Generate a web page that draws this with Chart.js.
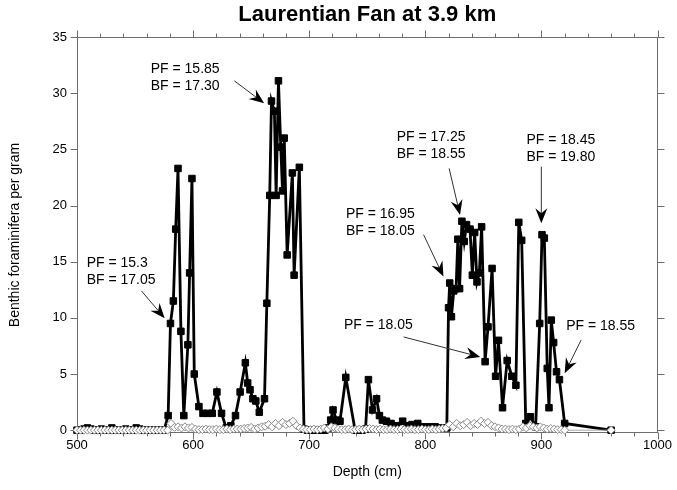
<!DOCTYPE html>
<html>
<head>
<meta charset="utf-8">
<script src="https://cdn.jsdelivr.net/npm/chart.js@4.4.0/dist/chart.umd.min.js"></script>
<style>
  html, body { margin: 0; padding: 0; background: #fff; }
</style>
</head>
<body>
<canvas id="fanChart" width="677" height="490"></canvas>
<script>
// Benthic forams (black squares), depth in cm
const bfDepth = [
  500, 503, 506, 509, 512, 515, 518, 521, 524, 527, 530, 533, 536, 539, 542, 545, 548, 551, 554, 557, 560, 563, 566, 569, 572, 575,
  578.5, 580.5, 583, 585, 587, 589.5, 592, 595.5, 597, 599, 601, 605, 608.5, 612.5, 616.5, 620.5, 624.5, 628.5, 632.5, 636.5, 640.5,
  645, 647, 649, 651.5, 654, 657, 661.5, 663.5, 666, 667.5, 670, 671.5, 673.5, 675.5, 677, 678.5, 681, 685.5, 687, 691.5, 695.5,
  698.5, 701.5, 704.5, 707.5, 710.5, 713.5, 716.5, 718.5, 720.5, 723.5, 726.5, 731.5, 739.5, 742.5, 745.5, 748.5,
  751, 754.5, 758, 760.5, 763, 766.5, 770.5, 775.5, 780.5, 784.5, 788.5, 793.5, 798.5, 803.5, 808.5, 813.5, 818.5,
  820, 821, 822.5, 824.5, 826.5, 828, 829.5, 831.5, 833.5, 835.5, 838.5, 840.5, 842.5, 844.5, 846.5, 848.5,
  851.5, 854, 857.5, 860.5, 863, 866.5, 870.5, 874.5, 878, 880.5, 883, 886.5, 890.5, 895, 898.5, 900.5, 902.5,
  905, 906.5, 908.5, 910.5, 913, 915.5, 920, 960
];
const bfValue = [
  0, 0, 0.1, 0.2, 0.1, 0, 0, 0.1, 0, 0, 0.2, 0, 0, 0, 0.1, 0, 0, 0.2, 0.1, 0, 0, 0, 0, 0, 0, 0,
  1.3, 9.5, 11.5, 17.9, 23.3, 8.8, 1.3, 7.6, 14.0, 22.4, 5.0, 2.1, 1.5, 1.5, 1.5, 3.4, 1.5, 0.2, 0.4, 1.3, 3.4,
  6.0, 4.2, 3.6, 2.8, 2.6, 1.6, 2.8, 11.3, 20.9, 29.3, 28.4, 20.9, 31.1, 25.2, 21.3, 26.0, 15.6, 22.9, 13.8, 23.4, 0.1,
  0, 0, 0, 0, 0, 0, 0.2, 0.9, 1.8, 0.9, 0.8, 4.7, 0, 0, 0, 0.1,
  4.5, 1.8, 2.8, 1.3, 0.9, 0.8, 0.6, 0.4, 0.8, 0.4, 0.5, 0.6, 0.3, 0.3, 0.3, 0.2, 0.2,
  10.9, 13.1, 10.1, 12.4, 12.6, 17.0, 12.6, 18.6, 16.8, 18.3, 17.9, 13.8, 17.6, 13.2, 14.0, 18.1,
  6.1, 9.2, 14.4, 4.8, 8.0, 2.0, 6.2, 4.8, 4.0, 18.5, 16.9, 0.6, 1.2, 0.3, 9.5, 17.4, 17.1,
  5.5, 2.0, 9.8, 7.8, 5.2, 4.5, 0.6, 0
];

// Planktonic forams (open diamonds)
const pfDepth = [
  500, 503, 506, 509, 512, 515, 518, 521, 524, 527, 530, 533, 536, 539, 542, 545, 548, 551, 554, 557, 560, 563, 566, 569, 572, 575, 578,
  581, 584, 587, 590, 593, 596, 599, 602, 605, 608, 611, 614, 617, 620, 623, 626, 629, 632, 635, 638,
  641, 644, 647, 650, 653, 656, 659, 662, 665, 668, 671, 674, 677, 680, 683, 686, 689, 692, 695, 698,
  701, 704, 707, 710, 713, 716, 719, 722, 725, 728, 731, 734, 737, 740, 743, 746, 749, 752, 755, 758,
  761, 764, 767, 770, 773, 776, 779, 782, 785, 788, 791, 794, 797, 800, 803, 806, 809, 812, 815, 818,
  821, 824, 827, 830, 833, 836, 839, 842, 845, 848, 851, 854, 857, 860, 863, 866, 869, 872, 875, 878,
  881, 884, 887, 890, 893, 896, 899, 902, 905, 908, 911, 914, 917, 920, 960
];
const pfValue = [
  0, 0, 0, 0, 0, 0, 0, 0, 0, 0, 0, 0, 0, 0, 0, 0, 0, 0, 0, 0, 0, 0, 0, 0, 0, 0, 0,
  0.6, 0.25, 0.3, 0.2, 0.3, 0.2, 0.25, 0.1, 0.05, 0.05, 0.1, 0.05, 0.05, 0.1, 0.05, 0.05, 0.1, 0.05, 0.1, 0.1,
  0.1, 0.15, 0.2, 0.25, 0.1, 0.2, 0.3, 0.35, 0.5, 0.3, 0.6, 0.4, 0.7, 0.5, 0.6, 0.8, 0.4, 0.2, 0.1, 0.05,
  0.05, 0.1, 0.05, 0.1, 0.2, 0.1, 0.3, 0.2, 0.1, 0.05, 0.05, 0.1, 0.05, 0.05, 0.1, 0.05, 0.1, 0.15, 0.1, 0.05,
  0.1, 0.05, 0.05, 0.1, 0.05, 0.05, 0.1, 0.05, 0.05, 0.1, 0.05, 0.05, 0.1, 0.05, 0.05, 0.1, 0.05, 0.1, 0.15, 0.2,
  0.5, 0.3, 0.6, 0.4, 0.5, 0.7, 0.4, 0.6, 0.5, 0.8, 0.6, 0.7, 0.4, 0.3, 0.2, 0.1, 0.1, 0.05, 0.1, 0.05,
  0.1, 0.3, 0.2, 0.4, 0.3, 0.2, 0.3, 0.2, 0.1, 0.15, 0.1, 0.05, 0.05, 0, 0
];

const xTickLabels = [500, 600, 700, 800, 900, 1000];
const yTickLabels = [0, 5, 10, 15, 20, 25, 30, 35];

// Callouts: text anchor, arrow start and arrow tip, all in (depth, value)
const notes = [
  { lines: ['PF = 15.3', 'BF = 17.05'], at: [508.3, 14.86], from: [555.5, 12.4], to: [575.5, 9.96] },
  { lines: ['PF = 15.85', 'BF = 17.30'], at: [563.5, 32.1], from: [635.5, 31.1], to: [661.2, 29.1] },
  { lines: ['PF = 17.25', 'BF = 18.55'], at: [775.3, 26.08], from: [820.5, 23.3], to: [829.9, 19.16] },
  { lines: ['PF = 16.95', 'BF = 18.05'], at: [731.6, 19.23], from: [798.5, 17.4], to: [815.6, 13.67] },
  { lines: ['PF = 18.45', 'BF = 19.80'], at: [887.1, 25.84], from: [899.9, 23.46], to: [899.9, 18.42] },
  { lines: ['PF = 18.05'], at: [729.9, 9.37], from: [781.3, 8.3], to: [847.3, 6.52] },
  { lines: ['PF = 18.55'], at: [921.3, 9.28], from: [934.2, 8.03], to: [920, 5.07] }
];

const fontFamily = "'Liberation Sans', Arial, sans-serif";
const frameColor = '#6e6e6e';

function toPoints(xs, ys) {
  return xs.map((x, i) => ({ x: x, y: ys[i] }));
}

function drawArrow(ctx, x0, y0, x1, y1) {
  const ang = Math.atan2(y1 - y0, x1 - x0);
  const len = 15, half = 6, notch = 10;
  ctx.beginPath();
  ctx.moveTo(x0, y0);
  ctx.lineTo(x1 - notch * Math.cos(ang), y1 - notch * Math.sin(ang));
  ctx.strokeStyle = '#333';
  ctx.lineWidth = 1;
  ctx.stroke();

  ctx.beginPath();
  ctx.moveTo(x1, y1);
  ctx.lineTo(x1 - len * Math.cos(ang) + half * Math.sin(ang), y1 - len * Math.sin(ang) - half * Math.cos(ang));
  ctx.lineTo(x1 - notch * Math.cos(ang), y1 - notch * Math.sin(ang));
  ctx.lineTo(x1 - len * Math.cos(ang) - half * Math.sin(ang), y1 - len * Math.sin(ang) + half * Math.cos(ang));
  ctx.closePath();
  ctx.fillStyle = '#000';
  ctx.fill();
}

const decorPlugin = {
  id: 'decor',
  beforeDraw(chart) {
    const ctx = chart.ctx;
    ctx.save();
    ctx.fillStyle = '#fff';
    ctx.fillRect(0, 0, chart.width, chart.height);
    ctx.restore();
  },
  beforeDatasetsDraw(chart) {
    const { ctx, chartArea: a, scales: { x, y } } = chart;
    ctx.save();
    ctx.strokeStyle = frameColor;
    ctx.lineWidth = 1;
    const L = Math.round(a.left) + 0.5, R = Math.round(a.right) - 0.5;
    const T = Math.round(a.top) + 0.5, B = Math.round(a.bottom) - 0.5;
    ctx.strokeRect(L, T, R - L, B - T);

    // x ticks, major every 100 and minor every 20, on bottom and top
    const step = (xTickLabels[1] - xTickLabels[0]) / 5;
    ctx.beginPath();
    for (let v = xTickLabels[0]; v <= xTickLabels[xTickLabels.length - 1]; v += step) {
      const len = (v - xTickLabels[0]) % (step * 5) === 0 ? 7 : 4;
      const px = Math.round(x.getPixelForValue(v)) + 0.5;
      ctx.moveTo(px, B); ctx.lineTo(px, B + len);
      ctx.moveTo(px, T); ctx.lineTo(px, T - len);
    }
    // y ticks on left and right
    yTickLabels.forEach(v => {
      const py = Math.round(y.getPixelForValue(v)) + 0.5;
      ctx.moveTo(L - 7, py); ctx.lineTo(L, py);
      ctx.moveTo(R, py); ctx.lineTo(R + 7, py);
    });
    ctx.stroke();
    ctx.restore();
  },
  afterDatasetsDraw(chart) {
    const { ctx, scales: { x, y } } = chart;
    ctx.save();
    ctx.font = '14px ' + fontFamily;
    ctx.fillStyle = '#000';
    ctx.textAlign = 'left';
    ctx.textBaseline = 'middle';
    notes.forEach(n => {
      const tx = x.getPixelForValue(n.at[0]);
      const ty = y.getPixelForValue(n.at[1]);
      n.lines.forEach((t, i) => ctx.fillText(t, tx, ty + i * 17));
      drawArrow(ctx,
        x.getPixelForValue(n.from[0]), y.getPixelForValue(n.from[1]),
        x.getPixelForValue(n.to[0]), y.getPixelForValue(n.to[1]));
    });
    ctx.restore();
  },
  afterDraw(chart) {
    const { ctx, chartArea: a } = chart;
    ctx.save();
    ctx.fillStyle = '#000';
    ctx.textAlign = 'center';
    ctx.textBaseline = 'middle';
    ctx.font = 'bold 22px ' + fontFamily;
    ctx.fillText('Laurentian Fan at 3.9 km', (a.left + a.right) / 2, 15);

    ctx.font = '14px ' + fontFamily;
    ctx.fillText('Depth (cm)', (a.left + a.right) / 2, 472);

    ctx.translate(15, (a.top + a.bottom) / 2);
    ctx.rotate(-Math.PI / 2);
    ctx.fillText('Benthic foraminifera per gram', 0, 0);
    ctx.restore();
  }
};

const tickFont = { family: fontFamily, size: 13 };

new Chart(document.getElementById('fanChart'), {
  type: 'line',
  data: {
    datasets: [
      {
        label: 'PF',
        data: toPoints(pfDepth, pfValue),
        borderColor: '#a8a8a8',
        borderWidth: 1,
        pointStyle: 'rectRot',
        pointRadius: 4,
        pointBackgroundColor: '#fff',
        pointBorderColor: '#8a8a8a',
        pointBorderWidth: 1,
        clip: false,
        order: 0
      },
      {
        label: 'BF',
        data: toPoints(bfDepth, bfValue),
        borderColor: '#000',
        borderWidth: 2.8,
        pointStyle: 'rect',
        pointRadius: 4.6,
        pointBackgroundColor: '#000',
        pointBorderColor: '#000',
        pointBorderWidth: 1,
        clip: false,
        order: 1
      }
    ]
  },
  options: {
    responsive: false,
    animation: false,
    layout: { padding: { top: 37, right: 17, bottom: 0, left: 0 } },
    plugins: {
      legend: { display: false },
      tooltip: { enabled: false }
    },
    scales: {
      x: {
        type: 'linear',
        min: 500,
        max: 1000,
        afterBuildTicks: s => { s.ticks = xTickLabels.map(v => ({ value: v })); },
        afterFit: s => { s.height = 57; },
        grid: { display: false, drawTicks: false },
        border: { display: false },
        ticks: {
          padding: 5, color: '#000', font: tickFont,
          maxRotation: 0, autoSkip: false,
          callback: v => String(v)
        }
      },
      y: {
        type: 'linear',
        min: -0.25,
        max: 35,
        afterBuildTicks: s => { s.ticks = yTickLabels.map(v => ({ value: v })); },
        afterFit: s => { s.width = 77; },
        grid: { display: false, drawTicks: false },
        border: { display: false },
        ticks: {
          padding: 10, color: '#000', font: tickFont,
          callback: v => String(v)
        }
      }
    }
  },
  plugins: [decorPlugin]
});
</script>
</body>
</html>
